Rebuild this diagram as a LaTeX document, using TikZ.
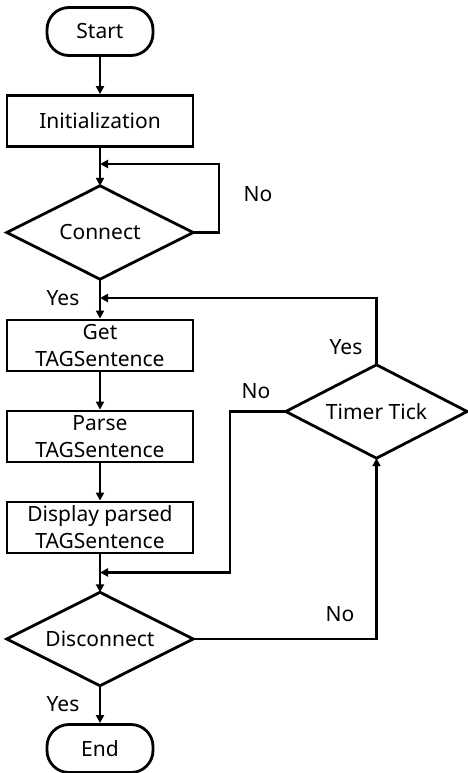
\documentclass[tikz,border=0pt]{standalone}
\usepackage{fontspec}
\setmainfont{Noto Sans}
\usetikzlibrary{arrows.meta}
\begin{document}
\begin{tikzpicture}[x=1pt,y=-1pt,
  txt/.style={font=\fontsize{21}{27}\selectfont},
  box/.style={txt,draw,line width=2.8pt,minimum width=186pt,minimum height=51pt,inner sep=0pt,align=center},
  term/.style={txt,draw,line width=2.8pt,rounded corners=22pt,minimum width=106pt,minimum height=48pt,inner sep=0pt},
  dec/.style={txt,minimum height=93pt,inner sep=0pt},
  dia/.style={line width=2.8pt,line join=miter},
  conn/.style={line width=2.2pt,-{Triangle[length=8pt,width=8pt]}},
  lab/.style={txt}
]
\useasboundingbox (0,0) rectangle (467,773);
% nodes
\node[term] (start) at (100,31.5) {Start};
\node[box] (init) at (100,121) {Initialization};
\node[dec,minimum width=186pt] (connect) at (100,232.5) {Connect};
\draw[dia] (connect.north) -- (connect.east) -- (connect.south) -- (connect.west) -- cycle;
\node[box] (get) at (100,345.5) {Get\\TAGSentence};
\node[box] (parse) at (100,436.5) {Parse\\TAGSentence};
\node[box] (disp) at (100,527.5) {Display parsed\\TAGSentence};
\node[dec,minimum width=186pt] (disc) at (100,639) {Disconnect};
\draw[dia] (disc.north) -- (disc.east) -- (disc.south) -- (disc.west) -- cycle;
\node[dec,minimum width=181pt] (timer) at (376.5,411.5) {Timer Tick};
\draw[dia] (timer.north) -- (timer.east) -- (timer.south) -- (timer.west) -- cycle;
\node[term] (end) at (100,748.5) {End};
% merge points
\coordinate (c1) at (100,164);
\coordinate (m1) at (100,298);
\coordinate (m2) at (100,572.5);
% connectors
\draw[conn] (start) -- (init);
\draw[conn] (init) -- (connect.north);
\draw[conn] (connect.east) -- ++(26,0) |- (c1);
\draw[conn] (connect.south) -- (get);
\draw[conn] (timer.north) |- (m1);
\draw[conn] (get) -- (parse);
\draw[conn] (parse) -- (disp);
\draw[conn] (disp) -- (disc.north);
\draw[conn] (timer.west) -- (230,411.5) |- (m2);
\draw[conn] (disc.east) -| (timer.south);
\draw[conn] (disc.south) -- (end);
% labels
\node[lab] (l1) at (258,194) {No};
\node[lab] (l2) at (63,298) {Yes};
\node[lab] (l3) at (346,347) {Yes};
\node[lab] (l4) at (256,391) {No};
\node[lab] (l5) at (340,614) {No};
\node[lab] (l6) at (63,704) {Yes};
\end{tikzpicture}
\end{document}
